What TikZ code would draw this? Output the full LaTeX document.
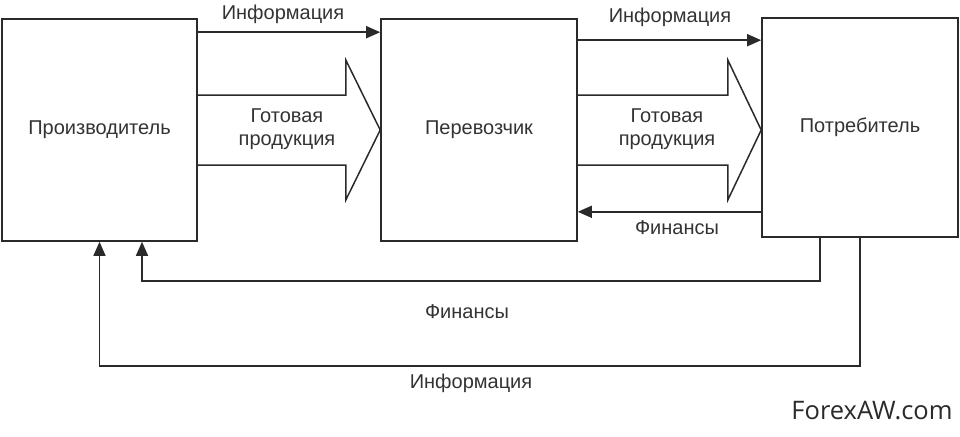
\documentclass[tikz,border=0pt]{standalone}
\usepackage{fontspec}
\setmainfont{Liberation Sans}
\newfontfamily\markfont{Open Sans}
\usetikzlibrary{arrows.meta,positioning,calc}
\definecolor{ink}{HTML}{2A2A2A}
\definecolor{textgray}{HTML}{333333}
\tikzset{
  box/.style={draw=ink, line width=1.6pt, fill=white, inner sep=0pt},
  flow/.style={draw=ink, line width=1.5pt, -{Triangle[length=14pt,width=12pt]}},
  bigarrow/.style={draw=ink, line width=1.5pt, line join=miter},
  lbl/.style={text=textgray, font=\fontsize{20}{23}\selectfont, align=center, inner sep=1pt}
}
\begin{document}
\begin{tikzpicture}[x=1pt,y=-1pt]
  \useasboundingbox (0,0) rectangle (960,436);
  % participants
  \node[box, minimum width=195pt, minimum height=222pt] (prod) at (99.5,130) {};
  \node[box, minimum width=196pt, minimum height=222pt] (carrier) at (479,130) {};
  \node[box, minimum width=196pt, minimum height=219pt] (cons) at (860,127.5) {};
  \node[lbl] at (prod.center) {Производитель};
  \node[lbl] at (carrier.center) {Перевозчик};
  \node[lbl] at (cons.center) {Потребитель};

  % information flows on top
  \draw[flow] ($(prod.north east)+(0,14)$) -- ($(carrier.north west)+(0,14)$);
  \draw[flow] ($(carrier.north east)+(0,22)$) -- ($(cons.north west)+(0,23)$);
  \node[lbl] at (283,14) {Информация};
  \node[lbl] at (670,17) {Информация};

  % goods
  \draw[bigarrow] ($(prod.east)+(0,-35)$) -- ++(148,0) -- ++(0,-35)
    -- (carrier.west) -- ($(prod.east)+(148,70)$) -- ++(0,-35) -- ++(-148,0);
  \draw[bigarrow] ($(carrier.east)+(0,-35)$) -- ++(150,0) -- ++(0,-35)
    -- (cons.west |- carrier.east) -- ($(carrier.east)+(150,70)$) -- ++(0,-35) -- ++(-150,0);
  \node[lbl] at (287,129) {Готовая\\продукция};
  \node[lbl] at (667,129) {Готовая\\продукция};

  % finances back
  \draw[flow] ($(cons.south west)+(0,-26)$) -- ($(carrier.south east)+(0,-30)$);
  \node[lbl] at (677,228) {Финансы};

  % loops at the bottom
  \draw[flow] ([xshift=-40pt]cons.south) -- ++(0,43) -| ([xshift=42.5pt]prod.south);
  \draw[flow] (cons.south) -- ++(0,128) -| (prod.south);
  \node[lbl] at (467,312) {Финансы};
  \node[lbl] at (471,383) {Информация};

  \node[text=ink, font=\markfont\fontsize{25.5}{28}\selectfont] at (872,411) {ForexAW.com};
\end{tikzpicture}
\end{document}
